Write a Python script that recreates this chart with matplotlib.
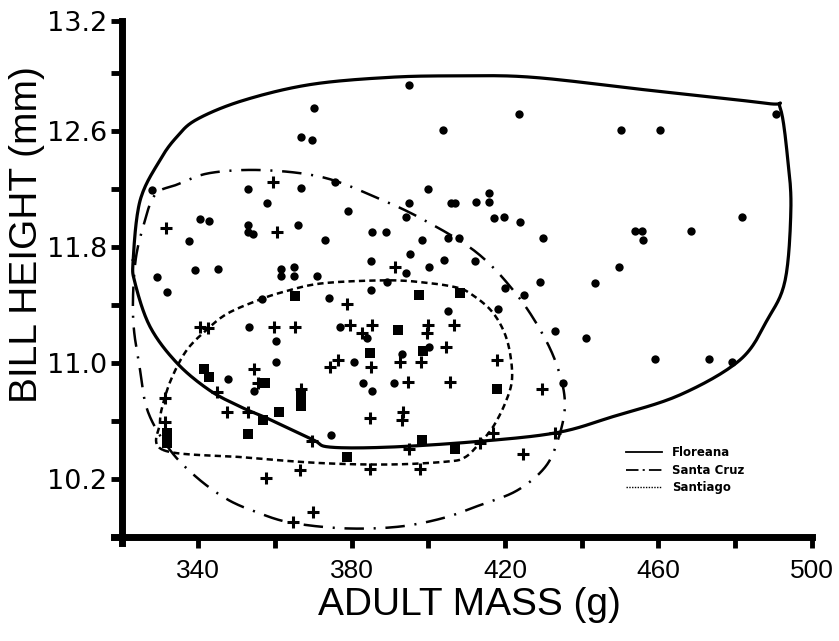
import matplotlib
matplotlib.use("Agg")
import matplotlib.pyplot as plt
import numpy as np
from matplotlib.lines import Line2D

# Floreana birds (filled circles): adult mass (g), bill height (mm)
floreana_mass = [395.0, 423.6, 403.8, 450.2, 460.4, 490.6, 481.8, 468.5, 453.9, 455.7,
                 456.0, 449.7, 429.9, 423.9, 419.7, 417.1, 415.8, 415.8, 412.4, 405.9,
                 407.0, 399.9, 395.0, 394.2, 389.0, 398.4, 405.1, 408.0, 395.2, 400.2,
                 404.1, 412.2, 394.2, 370.2, 366.8, 369.7, 328.0, 353.0, 366.8, 375.7,
                 358.0, 379.1, 340.5, 342.9, 353.0, 353.0, 354.3, 366.1, 337.7, 373.1,
                 385.3, 385.1, 329.3, 339.2, 345.2, 361.6, 361.6, 365.0, 365.0, 371.0,
                 331.9, 356.7, 374.1, 385.1, 353.3, 377.0, 384.0, 360.3, 360.3, 380.7,
                 347.8, 354.6, 383.0, 385.3, 374.7, 389.3, 420.0, 425.0, 429.1, 443.5,
                 405.1, 418.2, 433.0, 441.1, 400.2, 393.2, 459.1, 391.1, 435.1, 473.2,
                 479.2]
floreana_bill = [12.92, 12.72, 12.61, 12.61, 12.61, 12.72, 12.01, 11.91, 11.91, 11.91,
                 11.85, 11.66, 11.86, 11.97, 12.01, 12.00, 12.17, 12.11, 12.11, 12.10,
                 12.10, 12.20, 12.10, 12.01, 11.90, 11.85, 11.86, 11.86, 11.75, 11.66,
                 11.71, 11.70, 11.62, 12.76, 12.56, 12.54, 12.19, 12.20, 12.21, 12.25,
                 12.10, 12.05, 11.99, 11.98, 11.95, 11.90, 11.89, 11.95, 11.84, 11.85,
                 11.90, 11.70, 11.59, 11.64, 11.65, 11.65, 11.60, 11.66, 11.60, 11.60,
                 11.49, 11.44, 11.45, 11.50, 11.25, 11.25, 11.17, 11.15, 11.01, 11.01,
                 10.89, 10.81, 10.86, 10.81, 10.50, 11.56, 11.52, 11.47, 11.56, 11.55,
                 11.36, 11.37, 11.22, 11.17, 11.11, 11.06, 11.03, 10.86, 10.86, 11.03,
                 11.01]

# Santa Cruz birds (plus signs)
santacruz_mass = [359.5, 331.7, 360.6, 378.8, 340.5, 342.6, 359.8, 365.3, 379.6, 385.3,
                  382.7, 376.5, 374.4, 385.1, 354.6, 366.8, 345.0, 331.4, 347.6, 353.0,
                  384.8, 331.4, 369.7, 366.6, 384.8, 357.7, 370.0, 364.8, 355.6, 399.9,
                  399.7, 406.7, 404.6, 398.1, 392.6, 417.9, 394.7, 405.7, 429.6, 393.4,
                  393.2, 416.9, 433.0, 395.0, 413.5, 424.7, 397.9, 391.4]
santacruz_bill = [12.25, 11.93, 11.90, 11.41, 11.25, 11.24, 11.25, 11.25, 11.26, 11.26,
                  11.21, 11.02, 10.97, 10.97, 10.96, 10.82, 10.80, 10.76, 10.66, 10.66,
                  10.62, 10.59, 10.46, 10.26, 10.27, 10.21, 9.97, 9.90, 10.86, 11.26,
                  11.21, 11.26, 11.11, 11.01, 11.01, 11.02, 10.87, 10.87, 10.82, 10.66,
                  10.61, 10.52, 10.52, 10.41, 10.45, 10.37, 10.27, 11.66]

# Santiago birds (filled squares)
santiago_mass = [365.3, 384.8, 341.6, 342.9, 357.5, 366.8, 366.8, 356.9, 361.1, 331.9,
                 331.9, 353.0, 378.8, 397.6, 408.3, 392.1, 398.6, 417.9, 398.4, 407.0]
santiago_bill = [11.46, 11.07, 10.96, 10.90, 10.86, 10.77, 10.70, 10.61, 10.66, 10.52,
                 10.45, 10.51, 10.35, 11.47, 11.48, 11.23, 11.08, 10.82, 10.47, 10.41]

# outlines drawn around each island's points
floreana_hull_mass = [323.1, 324.9, 330.1, 334.5, 339.7, 351.7, 369.2, 390.0, 408.3, 427.3,
                      457.8, 488.3, 491.7, 493.7, 494.5, 493.0, 488.4, 481.2, 465.6, 448.1,
                      433.6, 413.5, 390.0, 374.4, 370.0, 358.8, 351.7, 343.1, 334.5, 327.5,
                      323.6]
floreana_hull_bill = [11.71, 12.12, 12.40, 12.56, 12.68, 12.81, 12.92, 12.97, 12.98, 12.97,
                      12.88, 12.79, 12.76, 12.40, 12.06, 11.57, 11.30, 11.02, 10.78, 10.63,
                      10.52, 10.46, 10.42, 10.42, 10.47, 10.61, 10.69, 10.81, 11.00, 11.25,
                      11.55]
santacruz_hull_mass = [323.6, 325.7, 328.8, 334.5, 343.1, 356.9, 372.6, 386.6, 398.6, 412.7,
                       423.1, 430.4, 434.3, 435.6, 433.8, 430.4, 423.1, 413.5, 403.8, 391.9,
                       377.8, 364.0, 355.4, 347.6, 339.7, 332.7, 327.0, 324.9, 323.1]
santacruz_hull_bill = [11.68, 11.94, 12.16, 12.23, 12.31, 12.33, 12.28, 12.14, 11.99, 11.76,
                       11.47, 11.17, 10.92, 10.70, 10.47, 10.28, 10.12, 10.02, 9.93, 9.87,
                       9.86, 9.90, 9.97, 10.06, 10.21, 10.40, 10.66, 10.95, 11.30]
santiago_hull_mass = [330.9, 351.7, 371.8, 390.0, 404.9, 409.6, 413.5, 416.9, 420.0, 421.8,
                      421.3, 419.5, 416.1, 410.9, 407.5, 400.5, 390.0, 372.6, 362.2, 355.4,
                      347.6, 342.3, 337.1, 333.2, 330.9, 330.1]
santiago_hull_bill = [10.40, 10.35, 10.31, 10.30, 10.32, 10.35, 10.45, 10.56, 10.72, 10.88,
                      11.07, 11.23, 11.37, 11.48, 11.52, 11.55, 11.57, 11.55, 11.49, 11.43,
                      11.34, 11.23, 11.09, 10.90, 10.72, 10.59]

x_ticks = [340, 360, 380, 400, 420, 440, 460, 480, 500]
x_labels = ["340", "", "380", "", "420", "", "460", "", "500"]
y_ticks = [10.2, 10.6, 11.0, 11.4, 11.8, 12.2, 12.6, 13.0, 13.36]
y_labels = ["10.2", "", "11.0", "", "11.8", "", "12.6", "", "13.2"]

plt.rcParams["lines.scale_dashes"] = False


def smooth_outline(ax, xs, ys, n=16):
    """Closed Catmull-Rom curve through the outline points, built in display space."""
    pts = ax.transData.transform(np.column_stack([xs, ys]))
    p = np.vstack([pts[-1], pts, pts[0], pts[1]])
    t = np.linspace(0, 1, n, endpoint=False)[:, None]
    out = []
    for i in range(1, len(pts) + 1):
        p0, p1, p2, p3 = p[i - 1], p[i], p[i + 1], p[i + 2]
        seg = 0.5 * ((2 * p1) + (-p0 + p2) * t + (2 * p0 - 5 * p1 + 4 * p2 - p3) * t ** 2
                     + (-p0 + 3 * p1 - 3 * p2 + p3) * t ** 3)
        out.append(seg)
    out.append(pts[:1])
    curve = ax.transData.inverted().transform(np.vstack(out))
    return curve[:, 0], curve[:, 1]


fig = plt.figure(figsize=(8.39, 6.41), dpi=100)
ax = fig.add_axes([0.1354, 0.1532, 0.8324, 0.8144])
ax.set_xlim(318, 500)
ax.set_ylim(9.76, 13.36)

for side in ("top", "right"):
    ax.spines[side].set_visible(False)
ax.spines["left"].set_position(("data", 320.2))
ax.spines["bottom"].set_position(("data", 9.8))
ax.spines["left"].set_linewidth(5)
ax.spines["bottom"].set_linewidth(5)

hx, hy = smooth_outline(ax, floreana_hull_mass, floreana_hull_bill)
ax.plot(hx, hy, color="black", lw=2.3, solid_capstyle="round")
hx, hy = smooth_outline(ax, santacruz_hull_mass, santacruz_hull_bill)
ax.plot(hx, hy, color="black", lw=1.8, linestyle=(0, (14, 7, 1.5, 7)))
hx, hy = smooth_outline(ax, santiago_hull_mass, santiago_hull_bill)
ax.plot(hx, hy, color="black", lw=1.8, linestyle=(0, (4.5, 3)))

ax.plot(floreana_mass, floreana_bill, "o", color="black", ms=6, mew=0)
ax.plot(santacruz_mass, santacruz_bill, "+", color="black", ms=8, mew=2.2)
ax.plot(santiago_mass, santiago_bill, "s", color="black", ms=6.5, mew=0)

ax.set_xticks(x_ticks)
ax.set_xticklabels(x_labels, fontsize=19, family=["Liberation Sans", "DejaVu Sans"])
ax.set_yticks(y_ticks)
ax.set_yticklabels(y_labels, fontsize=19.5, family="DejaVu Sans")
ax.tick_params(direction="out", length=8, width=3.5, color="black")
ax.tick_params(axis="x", pad=8)
ax.tick_params(axis="y", pad=3)

ax.set_xlabel("ADULT MASS (g)", fontsize=28, family=["Liberation Sans", "DejaVu Sans"])
ax.xaxis.set_label_coords(0.510, -0.119)
ax.xaxis.label.set_verticalalignment("center")
ax.set_ylabel("BILL HEIGHT (mm)", fontsize=28, family=["Liberation Sans", "DejaVu Sans"])
ax.yaxis.set_label_coords(-0.124, 0.590)
ax.yaxis.label.set_verticalalignment("center")

handles = [
    Line2D([], [], color="black", lw=1.3),
    Line2D([], [], color="black", lw=1.3, linestyle=(0, (9, 3, 1.5, 3))),
    Line2D([], [], color="black", lw=1.0, linestyle=(0, (1, 1))),
]
ax.legend(handles, ["Floreana", "Santa Cruz", "Santiago"], loc="upper left",
          bbox_to_anchor=(0.7461, 0.3042), bbox_transform=fig.transFigure,
          frameon=False, borderpad=0, borderaxespad=0, handlelength=3.05,
          handletextpad=0.85, labelspacing=0.4,
          prop={"family": "DejaVu Sans", "weight": "bold", "size": 8.5})

fig.savefig("out.png", dpi=100)
